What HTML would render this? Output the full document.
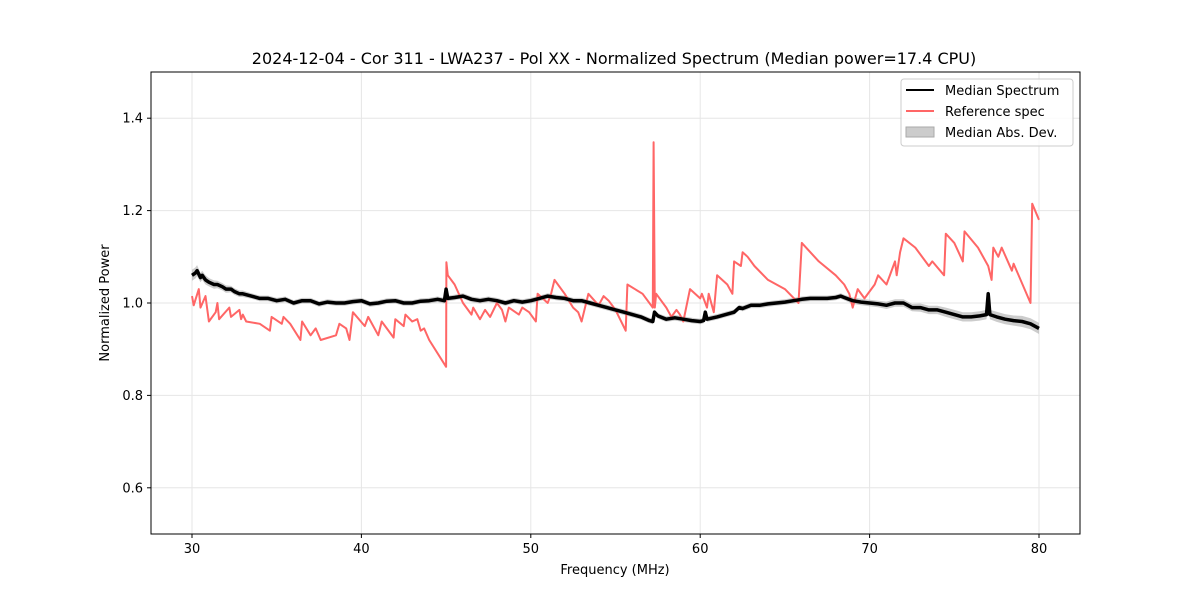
<!DOCTYPE html>
<html><head><meta charset="utf-8"><style>
body{margin:0;background:#fff;}
svg{display:block;font-family:"DejaVu Sans","Liberation Sans",sans-serif;}
</style></head><body>
<svg id="chart" width="1200" height="600" viewBox="0 0 1200 600">
<rect width="1200" height="600" fill="#fff"/>
<g id="grid"></g>
<g id="series"></g>
<rect x="151" y="72" width="929" height="462" fill="none" stroke="#000" stroke-width="1"/>
<g id="axes"></g>
<text x="614" y="64" text-anchor="middle" font-size="16">2024-12-04 - Cor 311 - LWA237 - Pol XX - Normalized Spectrum (Median power=17.4 CPU)</text>
<text x="615" y="574" text-anchor="middle" font-size="13">Frequency (MHz)</text>
<text x="109" y="303" text-anchor="middle" font-size="13" transform="rotate(-90 109 303)">Normalized Power</text>
<g>
<rect x="901" y="79" width="172" height="67" rx="3" fill="#fff" fill-opacity="0.8" stroke="#ccc"/>
<line x1="906" y1="90" x2="934" y2="90" stroke="#000" stroke-width="2"/>
<text x="945" y="95" font-size="13">Median Spectrum</text>
<line x1="906" y1="111" x2="934" y2="111" stroke="#ff6666" stroke-width="2"/>
<text x="945" y="116" font-size="13">Reference spec</text>
<rect x="906" y="127" width="28" height="10" fill="#ccc" stroke="#aaa"/>
<text x="945" y="137" font-size="13">Median Abs. Dev.</text>
</g>
</svg>
<script>
const xTicks=[30,40,50,60,70,80];
const yTicks=[0.6,0.8,1.0,1.2,1.4];
const yTickLabels=["0.6","0.8","1.0","1.2","1.4"];
const medFreq=[30,30.2,30.3,30.5,30.6,30.8,31,31.3,31.5,31.8,32,32.3,32.5,32.8,33,33.5,34,34.5,35,35.5,36,36.5,37,37.5,38,38.5,39,39.5,40,40.5,41,41.5,42,42.5,43,43.5,44,44.5,44.9,45,45.1,45.5,46,46.5,47,47.5,48,48.5,49,49.5,50,50.5,51,51.5,52,52.5,53,53.5,54,54.5,55,55.5,56,56.5,57,57.2,57.3,57.5,58,58.5,59,59.5,60,60.2,60.3,60.4,61,61.5,62,62.3,62.5,63,63.5,64,64.5,65,65.5,66,66.5,67,67.5,68,68.3,68.5,69,69.5,70,70.5,71,71.5,72,72.5,73,73.5,74,74.5,75,75.5,76,76.5,76.9,77,77.1,77.5,78,78.5,79,79.5,80];
const medVal=[1.06,1.065,1.07,1.055,1.06,1.05,1.045,1.04,1.04,1.035,1.03,1.03,1.025,1.02,1.02,1.015,1.01,1.01,1.005,1.008,1.0,1.005,1.005,0.998,1.002,1.0,1.0,1.003,1.005,0.998,1.0,1.004,1.005,1.0,1.0,1.004,1.005,1.008,1.005,1.03,1.01,1.012,1.015,1.008,1.005,1.008,1.005,1.0,1.005,1.002,1.005,1.01,1.015,1.012,1.01,1.005,1.005,1.0,0.995,0.99,0.985,0.98,0.975,0.97,0.962,0.96,0.98,0.972,0.965,0.968,0.965,0.962,0.96,0.962,0.98,0.965,0.97,0.975,0.98,0.99,0.988,0.995,0.995,0.998,1.0,1.002,1.005,1.008,1.01,1.01,1.01,1.012,1.015,1.012,1.005,1.002,1.0,0.998,0.995,1.0,1.0,0.99,0.99,0.985,0.985,0.98,0.975,0.97,0.97,0.972,0.975,1.02,0.975,0.97,0.965,0.962,0.96,0.955,0.945];
const medMad=[0.012,0.012,0.012,0.01,0.01,0.01,0.009,0.009,0.008,0.008,0.008,0.007,0.007,0.007,0.007,0.006,0.006,0.006,0.006,0.006,0.006,0.006,0.006,0.006,0.006,0.006,0.006,0.006,0.006,0.006,0.006,0.006,0.006,0.006,0.006,0.006,0.006,0.006,0.006,0.006,0.006,0.006,0.006,0.006,0.006,0.006,0.006,0.006,0.006,0.006,0.006,0.006,0.006,0.006,0.006,0.006,0.006,0.006,0.006,0.006,0.006,0.006,0.006,0.006,0.006,0.006,0.006,0.006,0.006,0.006,0.006,0.006,0.006,0.006,0.006,0.006,0.006,0.006,0.006,0.006,0.006,0.006,0.006,0.006,0.006,0.006,0.006,0.006,0.006,0.006,0.006,0.006,0.006,0.006,0.007,0.007,0.007,0.007,0.008,0.008,0.008,0.008,0.009,0.009,0.009,0.01,0.01,0.01,0.01,0.01,0.01,0.01,0.01,0.011,0.011,0.011,0.012,0.012,0.012];
const refFreq=[30,30.1,30.4,30.5,30.8,31,31.4,31.5,31.6,32.2,32.3,32.8,32.9,33,33.2,34,34.6,34.7,35.3,35.4,35.8,36.4,36.5,37,37.3,37.6,38.5,38.7,39.1,39.3,39.5,40.2,40.4,41,41.2,41.9,42,42.5,42.6,43,43.3,43.5,43.7,44,45,45.02,45.1,45.5,46,46.5,46.6,47,47.3,47.6,48,48.3,48.5,48.7,49.3,49.5,49.9,50.3,50.4,51,51.2,51.4,52,52.5,52.8,53,53.4,54,54.3,54.6,55,55.6,55.7,56.6,57.2,57.25,57.32,57.4,58,58.3,58.6,58.8,59,59.4,60,60.1,60.4,60.5,60.8,61,61.6,61.9,62,62.4,62.5,62.8,63,63.2,64,65,65.8,66,66.5,67,68,68.5,68.8,69,69.3,69.7,70.3,70.5,71,71.5,71.6,71.8,72,72.7,73.5,73.7,74.4,74.5,75,75.5,75.6,76.4,77,77.2,77.3,77.6,77.8,78.4,78.5,79.5,79.6,80];
const refVal=[1.015,0.995,1.03,0.99,1.015,0.96,0.98,1.0,0.965,0.99,0.97,0.985,0.965,0.975,0.96,0.955,0.94,0.97,0.955,0.97,0.955,0.92,0.96,0.93,0.945,0.92,0.93,0.955,0.945,0.92,0.98,0.95,0.97,0.93,0.96,0.925,0.965,0.95,0.975,0.96,0.965,0.94,0.945,0.92,0.862,1.088,1.06,1.04,1.0,0.975,0.99,0.965,0.985,0.97,1.0,0.985,0.96,0.99,0.975,0.99,0.98,0.96,1.02,1.0,1.02,1.05,1.02,0.99,0.98,0.96,1.02,0.995,1.015,1.005,0.985,0.94,1.04,1.02,0.99,1.348,0.99,1.02,0.99,0.97,0.985,0.975,0.96,1.03,1.01,1.02,0.99,1.02,0.98,1.06,1.04,1.02,1.09,1.08,1.11,1.1,1.09,1.08,1.05,1.03,1.0,1.13,1.11,1.09,1.06,1.04,1.02,0.99,1.03,1.01,1.04,1.06,1.04,1.09,1.06,1.11,1.14,1.12,1.08,1.09,1.06,1.15,1.13,1.09,1.155,1.12,1.08,1.05,1.12,1.1,1.12,1.07,1.085,1.0,1.215,1.18];

const NS='http://www.w3.org/2000/svg';
const L=151,R=1080,T=72,B=534,X0=27.58,X1=82.42,Y0=0.5,Y1=1.5;
function sx(v){return L+(v-X0)/(X1-X0)*(R-L);}
function sy(v){return B-(v-Y0)/(Y1-Y0)*(B-T);}
function mk(tag,attrs,parent){const e=document.createElementNS(NS,tag);for(const k in attrs)e.setAttribute(k,attrs[k]);parent.appendChild(e);return e;}
const grid=document.getElementById('grid'),axes=document.getElementById('axes'),ser=document.getElementById('series');
xTicks.forEach(t=>{
  const g=mk('line',{x1:sx(t),x2:sx(t),y1:T,y2:B,stroke:'#e6e6e6','stroke-width':1},grid);
  
  
  const tk=mk('line',{x1:sx(t),x2:sx(t),y1:B,y2:B+4,stroke:'#000'},axes);
  
  
  const tx=mk('text',{x:sx(t),y:B+19,'text-anchor':'middle','font-size':13},axes);
  tx.textContent=String(t);
  
  
});
yTicks.forEach((t,i)=>{
  const g=mk('line',{x1:L,x2:R,y1:sy(t),y2:sy(t),stroke:'#e6e6e6','stroke-width':1},grid);
  
  
  const tk=mk('line',{x1:L-4,x2:L,y1:sy(t),y2:sy(t),stroke:'#000'},axes);
  
  
  const tx=mk('text',{x:L-8,y:sy(t)+4.5,'text-anchor':'end','font-size':13},axes);
  tx.textContent=yTickLabels[i];
  
  
});
let up=medFreq.map((f,i)=>sx(f).toFixed(1)+','+sy(medVal[i]+medMad[i]).toFixed(1));
let dn=medFreq.map((f,i)=>sx(f).toFixed(1)+','+sy(medVal[i]-medMad[i]).toFixed(1)).reverse();
const band=mk('polygon',{points:up.concat(dn).join(' '),fill:'#999','fill-opacity':0.5},ser);


const ref=mk('polyline',{points:refFreq.map((f,i)=>sx(f).toFixed(1)+','+sy(refVal[i]).toFixed(1)).join(' '),fill:'none',stroke:'#ff6666','stroke-width':2,'stroke-linejoin':'round'},ser);


const med=mk('polyline',{points:medFreq.map((f,i)=>sx(f).toFixed(1)+','+sy(medVal[i]).toFixed(1)).join(' '),fill:'none',stroke:'#000','stroke-width':3.5,'stroke-linejoin':'round'},ser);


</script>
</body></html>
